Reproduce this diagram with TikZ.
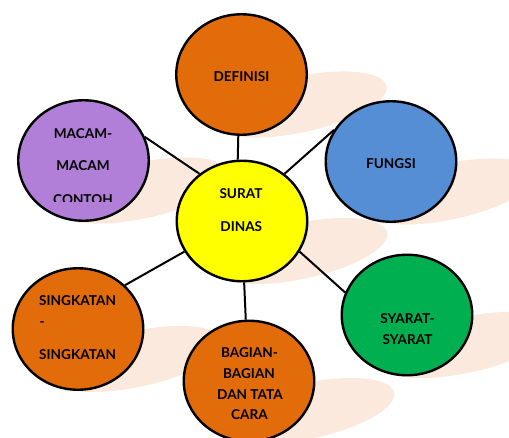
\documentclass[tikz,border=0pt]{standalone}
\usepackage{fontspec}
\newfontfamily\bubfont{Lato}
\usetikzlibrary{shapes.geometric}
\definecolor{shad}{HTML}{FCE9DE}
\definecolor{orng}{HTML}{E36C0A}
\definecolor{purp}{HTML}{B17ED8}
\definecolor{blu}{HTML}{558ED5}
\definecolor{grn}{HTML}{00B050}
\definecolor{yel}{HTML}{FFFF00}
\begin{document}
\begin{tikzpicture}[x=1pt,y=-1pt,
  bubble/.style={ellipse, draw=black, line width=2.4pt, minimum width=130.5pt, minimum height=120.5pt, inner sep=0pt},
  link/.style={draw=black, line width=2pt},
  txt/.style={anchor=base, inner sep=0pt, font=\bubfont\bfseries\fontsize{13.6}{16}\selectfont, text=black},
  txtl/.style={txt, anchor=base west},
  shadowblob/.style={fill=shad, draw=none}]
\useasboundingbox (0,0) rectangle (509,437);
% shadows
\foreach \X/\Y in {299.5/104.5, 449/191.5, 300/251, 141.5/190.5, 136/359, 307/411, 465/345}
  \fill[shadowblob, rotate around={12:(\X,\Y)}] (\X,\Y) ellipse [x radius=89pt, y radius=28pt];
% bubbles
\node[bubble, fill=orng] (def) at (241.5,74.5) {};
\node[bubble, fill=blu] (fun) at (391,161.5) {};
\node[bubble, fill=yel] (sur) at (242,221) {};
\node[bubble, fill=purp] (mac) at (83.5,160.5) {};
\node[bubble, fill=orng, minimum height=121.5pt] (sin) at (78,329) {};
\node[bubble, fill=orng] (bag) at (249,381) {};
\node[bubble, fill=grn] (sya) at (407,315) {};
% connectors
\draw[link] (def.267) -- (sur.94);
\draw[link] (sur.48) -- (fun.151.5);
\draw[link] (sur.132) -- (mac.21);
\draw[link] (sur.208.5) -- (sin.43.7);
\draw[link] (sur.272.8) -- (bag.93.7);
\draw[link] (sur.-28) -- (sya.160);
% texts
\node[txt] (tdef) at (241.5,81) {DEFINISI};
\node[txt] (tfun) at (391,168) {FUNGSI};
\node[txt] (tsur1) at (241,198) {SURAT};
\node[txt] (tsur2) at (241.3,231) {DINAS};
\node[txt] (tmac1) at (83,138) {MACAM-};
\node[txt] (tmac2) at (83,170.5) {MACAM};
\begin{scope}
  \clip (0,0) rectangle (509,201);
  \node[txt] (tmac3) at (83,204.3) {CONTOH};
\end{scope}
\node[txtl] (tsin1) at (39,305.5) {SINGKATAN};
\node[txtl] (tsin2) at (39.5,326.5) {-};
\node[txtl] (tsin3) at (39,359) {SINGKATAN};
\node[txt] (tbag1) at (249.5,357) {BAGIAN-};
\node[txt] (tbag2) at (249,378) {BAGIAN};
\node[txt] (tbag3) at (250,399) {DAN TATA};
\node[txt] (tbag4) at (249.5,419) {CARA};
\node[txt] (tsya1) at (407.5,323.5) {SYARAT-};
\node[txt] (tsya2) at (407.5,344) {SYARAT};
\end{tikzpicture}
\end{document}
